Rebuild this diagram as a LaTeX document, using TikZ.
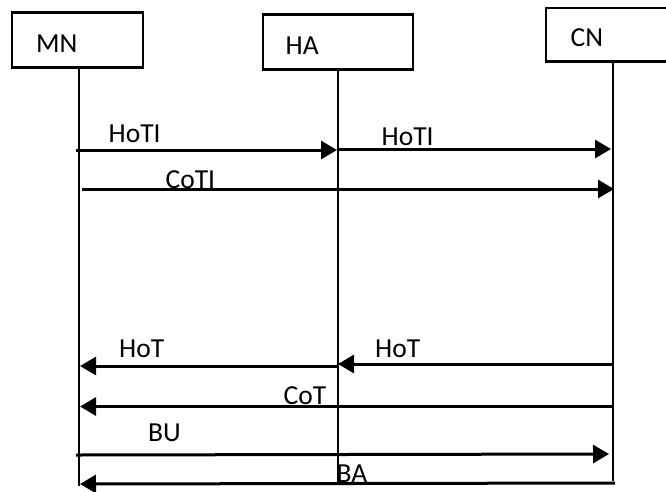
\documentclass[tikz,border=0pt]{standalone}
\usepackage{fontspec}
\setmainfont{Carlito}
\usetikzlibrary{arrows.meta}
\begin{document}
\begin{tikzpicture}[x=1pt,y=-1pt,
  box/.style={draw,line width=2.5pt,inner sep=0pt,outer sep=0pt},
  lbl/.style={anchor=base west,inner sep=0pt,font=\fontsize{27.5}{31}\selectfont},
  life/.style={line width=2pt},
  msg/.style={line width=3pt,-{Triangle[length=16pt,width=18pt]}}]
\useasboundingbox (0,0) rectangle (666,491);
% boxes
\node[box,minimum width=131pt,minimum height=55pt] (mn) at (77.5,40.2) {};
\node[box,minimum width=150pt,minimum height=54.6pt] (ha) at (337.8,42) {};
\node[box,minimum width=122pt,minimum height=53.3pt] (cn) at (607,34.7) {};
\node[lbl] (mnt) at (36,52.5) {MN};
\node[lbl] (hat) at (285.5,54.5) {HA};
\node[lbl] (cnt) at (570.5,46.5) {CN};
% lifelines
\coordinate (mntop) at (79,67.7);
\coordinate (mnbot) at (79,486);
\coordinate (hatop) at (337.5,69.3);
\coordinate (habot) at (337.5,483);
\coordinate (cntop) at (612.5,61.3);
\coordinate (cnbot) at (612.5,481);
\draw[life] (mntop) -- (mnbot);
\draw[life] (hatop) -- (habot);
\draw[life] (cntop) -- (cnbot);
% message end points
\coordinate (a1) at (76,150);  \coordinate (b1) at (337,150);
\coordinate (a2) at (337,149); \coordinate (b2) at (611,149);
\coordinate (a3) at (82,189);  \coordinate (b3) at (614,189);
\coordinate (a4) at (338,366); \coordinate (b4) at (80,366);
\coordinate (a5) at (613,364); \coordinate (b5) at (338,364);
\coordinate (a6) at (613,406.5); \coordinate (b6) at (80,406.5);
\coordinate (a7) at (76,455);  \coordinate (b7) at (609,454);
\coordinate (a8) at (615,483); \coordinate (b8) at (80,484);
\draw[msg] (a1) -- (b1);
\draw[msg] (a2) -- (b2);
\draw[msg] (a3) -- (b3);
\draw[msg] (a4) -- (b4);
\draw[msg] (a5) -- (b5);
\draw[msg] (a6) -- (b6);
\draw[msg] (a7) -- (b7);
\draw[msg] (a8) -- (b8);
% labels
\node[lbl] (l1) at (108.5,142.5) {HoTI};
\node[lbl] (l2) at (381.5,145.5) {HoTI};
\node[lbl] (l3) at (165.5,188.5) {CoTI};
\node[lbl] (l4) at (119,357) {HoT};
\node[lbl] (l5) at (375,357) {HoT};
\node[lbl] (l6) at (283.5,404.5) {CoT};
\node[lbl] (l7) at (148,441.5) {BU};
\node[lbl] (l8) at (336.5,482.5) {BA};
\end{tikzpicture}
\end{document}
